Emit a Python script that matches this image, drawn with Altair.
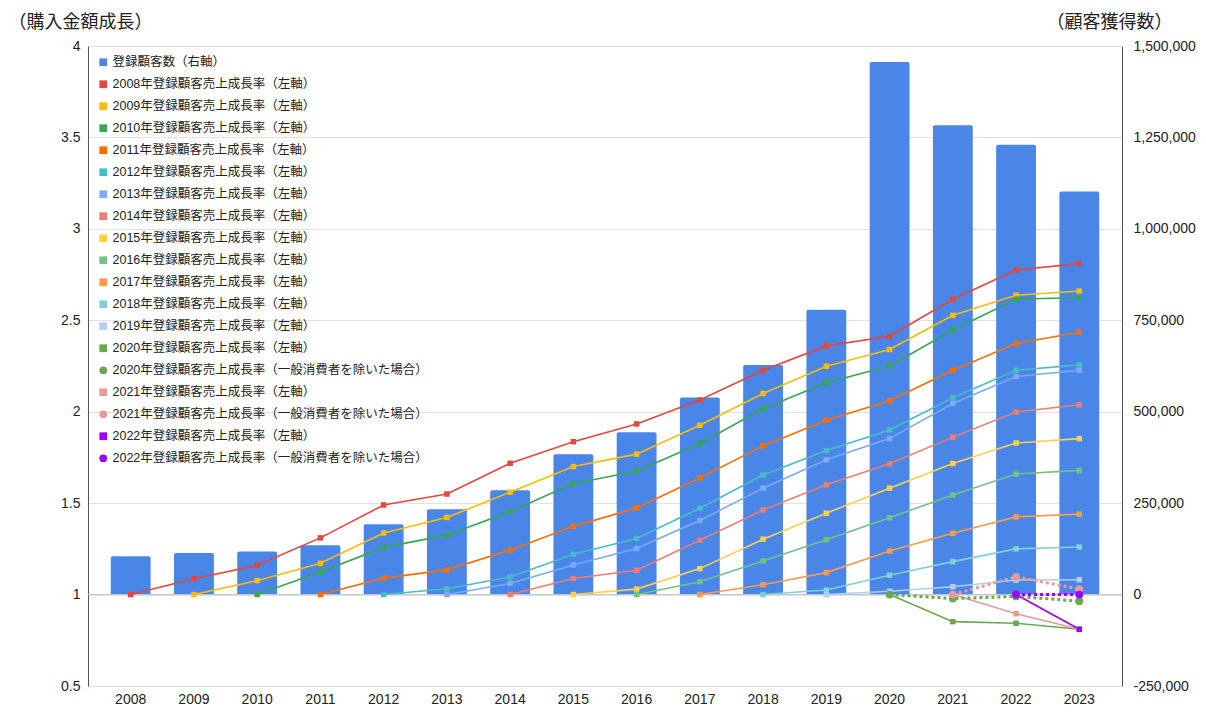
import altair as alt
import pandas as pd

# ---------------- data ----------------
years = [str(y) for y in range(2008, 2024)]
customers = [105000, 114000, 118000, 135000, 192000, 233000, 285000, 384000,
             444000, 539000, 628000, 779000, 1456000, 1283000, 1230000, 1102000]

g2008 = [1.0, 1.087, 1.16, 1.31, 1.49, 1.55, 1.718, 1.836, 1.933, 2.064, 2.227, 2.36, 2.413, 2.615, 2.775, 2.81]
g2009 = [1.0, 1.076, 1.171, 1.337, 1.422, 1.56, 1.70, 1.768, 1.926, 2.10, 2.249, 2.34, 2.527, 2.637, 2.66]
g2010 = [1.0, 1.123, 1.258, 1.325, 1.454, 1.607, 1.674, 1.826, 2.016, 2.159, 2.25, 2.447, 2.615, 2.625]
g2011 = [1.0, 1.09, 1.135, 1.243, 1.373, 1.474, 1.638, 1.813, 1.953, 2.06, 2.227, 2.373, 2.435]
g2012 = [1.0, 1.032, 1.096, 1.22, 1.307, 1.472, 1.654, 1.788, 1.90, 2.076, 2.227, 2.256]
g2013 = [1.0, 1.061, 1.162, 1.252, 1.405, 1.582, 1.737, 1.853, 2.045, 2.193, 2.227]
g2014 = [1.0, 1.088, 1.133, 1.297, 1.463, 1.60, 1.715, 1.861, 1.998, 2.038]
g2015 = [1.0, 1.03, 1.142, 1.303, 1.445, 1.582, 1.717, 1.829, 1.853]
g2016 = [1.0, 1.07, 1.184, 1.30, 1.42, 1.544, 1.659, 1.679]
g2017 = [1.0, 1.054, 1.12, 1.238, 1.335, 1.425, 1.44]
g2018 = [1.0, 1.025, 1.106, 1.18, 1.25, 1.26]
g2019 = [1.0, 1.018, 1.043, 1.08, 1.081]
g2020 = [1.0, 0.852, 0.843, 0.81]
g2021 = [1.0, 0.895, 0.81]
g2022 = [1.0, 0.81]
x2020 = [1.0, 0.978, 0.99, 0.964]
x2021 = [1.0, 1.097, 1.03]
x2022 = [1.0, 1.0]

solid_series = {2008: g2008, 2009: g2009, 2010: g2010, 2011: g2011, 2012: g2012,
                2013: g2013, 2014: g2014, 2015: g2015, 2016: g2016, 2017: g2017,
                2018: g2018, 2019: g2019, 2020: g2020, 2021: g2021, 2022: g2022}
excl_series = {2020: x2020, 2021: x2021, 2022: x2022}

bar_name = "登録顧客数（右軸）"
def solid_name(y):
    return f"{y}年登録顧客売上成長率（左軸）"
def excl_name(y):
    return f"{y}年登録顧客売上成長率（一般消費者を除いた場合）"

series_colors = {
    bar_name: "#4a86e8",
    solid_name(2008): "#e8453c",
    solid_name(2009): "#fbbc04",
    solid_name(2010): "#34a853",
    solid_name(2011): "#ff6d01",
    solid_name(2012): "#46bdc6",
    solid_name(2013): "#7baaf7",
    solid_name(2014): "#f07b72",
    solid_name(2015): "#fcd04f",
    solid_name(2016): "#71c287",
    solid_name(2017): "#ff994d",
    solid_name(2018): "#7ed1d7",
    solid_name(2019): "#b3cefb",
    solid_name(2020): "#6aa84f",
    excl_name(2020): "#6aa84f",
    solid_name(2021): "#ea9999",
    excl_name(2021): "#ea9999",
    solid_name(2022): "#9900ff",
    excl_name(2022): "#9900ff",
}
legend_domain = list(series_colors.keys())
legend_range = list(series_colors.values())
legend_shapes = ["circle" if "一般" in n else "square" for n in legend_domain]

# ---------------- tables ----------------
bar_df = pd.DataFrame({"year": years, "customers": customers})

rows = []
for cy, vals in solid_series.items():
    for i, v in enumerate(vals):
        rows.append({"year": str(cy + i), "value": v, "series": solid_name(cy)})
solid_df = pd.DataFrame(rows)
rows = []
for cy, vals in excl_series.items():
    for i, v in enumerate(vals):
        rows.append({"year": str(cy + i), "value": v, "series": excl_name(cy)})
excl_df = pd.DataFrame(rows)

FONT = "Liberation Sans, Noto Sans CJK JP"
CJK = "Noto Sans CJK JP"

# shared y scale: left axis 0.5..4 ; right axis (customers) aligned so that
# 0 customers -> 1.0 and 250,000 customers -> 0.5 units
RIGHT_PER_UNIT = 500000
xscale = alt.Scale(domain=years, paddingInner=0.37, paddingOuter=0.36)
yscale = alt.Scale(domain=[0.5, 4], nice=False, zero=False)
color_scale = alt.Scale(domain=legend_domain, range=legend_range)
shape_scale = alt.Scale(domain=legend_domain, range=legend_shapes)
stroke_scale = alt.Scale(domain=legend_domain[1:], range=legend_range[1:])

x_axis = alt.Axis(title=None, labelAngle=0, ticks=False, domain=False, grid=False,
                  labelPadding=6, labelFontSize=14, labelColor="#222", labelFont=FONT)
x_enc = alt.X("year:O", scale=xscale, axis=x_axis)

left_vals = [0.5, 1, 1.5, 2, 2.5, 3, 3.5, 4]

# ---------------- bars (right axis) ----------------
bars = alt.Chart(bar_df).transform_calculate(
    yb=f"1 + datum.customers / {RIGHT_PER_UNIT}"
).mark_bar(color="#4a86e8", cornerRadiusTopLeft=2, cornerRadiusTopRight=2).encode(
    x=x_enc,
    y=alt.Y("yb:Q", scale=yscale,
            axis=alt.Axis(orient="right", values=left_vals, grid=False, ticks=False,
                          domain=True, domainColor="#555",
                          labelExpr=f"(datum.value - 1) < 0 ? '-' + format(round((1 - datum.value) * {RIGHT_PER_UNIT}), ',') : format(round((datum.value - 1) * {RIGHT_PER_UNIT}), ',')",
                          labelPadding=11, labelFontSize=14, labelColor="#222", labelFont=FONT,
                          title="（顧客獲得数）", titleAngle=0, titleX=-13, titleY=-24,
                          titleAlign="center", titleBaseline="middle", titleFont=CJK,
                          titleFontSize=18, titleFontWeight="normal", titleColor="#222")),
    y2=alt.datum(1.0),
)

# ---------------- lines (left axis) ----------------
y_left = alt.Y("value:Q", scale=yscale,
               axis=alt.Axis(orient="left", values=left_vals, format="~g", grid=True,
                             gridColor="#e2e2e2", ticks=False, domain=True, domainColor="#555",
                             labelPadding=8, labelFontSize=14, labelColor="#222", labelFont=FONT,
                             title="（購入金額成長）", titleAngle=0, titleX=-80, titleY=-24,
                             titleAlign="left", titleBaseline="middle", titleFont=CJK,
                             titleFontSize=18, titleFontWeight="normal", titleColor="#222"))
y_noaxis = alt.Y("value:Q", scale=yscale, axis=None)

base_rule = alt.Chart(pd.DataFrame({"value": [1.0]})).mark_rule(color="#c4c4c4", strokeWidth=1).encode(
    y=y_noaxis
)

solid_lines = alt.Chart(solid_df).mark_line(strokeWidth=1.6).encode(
    x=x_enc, y=y_left,
    stroke=alt.Stroke("series:N", scale=stroke_scale, legend=None),
    detail="series:N",
)
dotted_lines = alt.Chart(excl_df).mark_line(strokeWidth=3, strokeDash=[3, 3]).encode(
    x=x_enc, y=y_noaxis,
    stroke=alt.Stroke("series:N", scale=stroke_scale, legend=None),
    detail="series:N",
)

legend = alt.Legend(
    title=None, orient="none", legendX=9, legendY=10, direction="vertical",
    labelFont=FONT, labelFontSize=12.5, labelColor="#222", labelLimit=500,
    symbolSize=60, symbolStrokeWidth=0, labelOffset=3, rowPadding=9, padding=0,
)

square_pts = alt.Chart(solid_df).mark_point(filled=True, size=30, opacity=1).encode(
    x=x_enc, y=y_noaxis,
    color=alt.Color("series:N", scale=color_scale, legend=legend),
    shape=alt.Shape("series:N", scale=shape_scale, legend=legend),
)
circle_pts = alt.Chart(excl_df).mark_point(filled=True, size=60, opacity=1).encode(
    x=x_enc, y=y_noaxis,
    color=alt.Color("series:N", scale=color_scale, legend=legend),
    shape=alt.Shape("series:N", scale=shape_scale, legend=legend),
)

chart = alt.layer(bars, base_rule, solid_lines, dotted_lines, square_pts, circle_pts).resolve_axis(
    y="independent"
).properties(
    width=1034, height=640,
    padding={"left": 0, "top": 5, "right": 0, "bottom": 0},
    background="white",
).configure_view(strokeWidth=0)

chart.save("out.html", embed_options={"renderer": "svg", "actions": False})
